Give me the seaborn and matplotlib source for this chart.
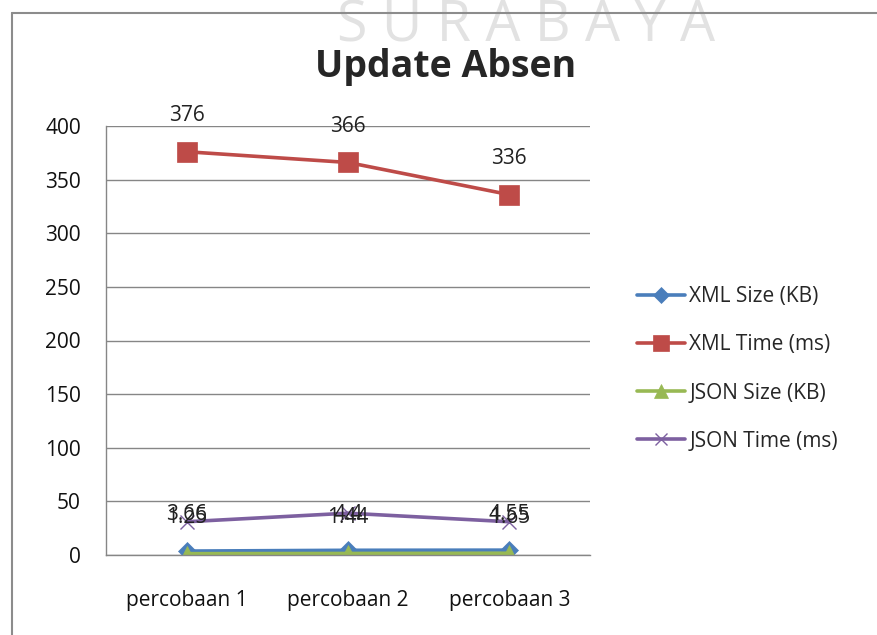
import matplotlib
matplotlib.use("Agg")
import matplotlib.pyplot as plt
import seaborn as sns
import pandas as pd
from matplotlib.lines import Line2D

categories = ["percobaan 1", "percobaan 2", "percobaan 3"]
xml_size = [3.66, 4.4, 4.55]
xml_time = [376, 366, 336]
json_size = [1.25, 1.44, 1.65]
json_time = [31, 39, 31]
series_names = ["XML Size (KB)", "XML Time (ms)", "JSON Size (KB)", "JSON Time (ms)"]

colors = ["#4A7EBB", "#BE4B48", "#98B954", "#7D60A0"]
markers = ["D", "s", "^", "x"]
msizes = [9, 14, 12, 10]

sns.set_style("white")
plt.rcParams["font.family"] = ["Open Sans", "DejaVu Sans"]

rows = []
for name, vals in zip(series_names, [xml_size, xml_time, json_size, json_time]):
    for i, v in enumerate(vals):
        rows.append({"x": i, "cat": categories[i], "value": v, "series": name})
df = pd.DataFrame(rows)

fig = plt.figure(figsize=(8.78, 6.35), dpi=100)
ax = fig.add_axes([106 / 878, 1 - 555 / 635, 484 / 878, 429 / 635])

for name, c, m, ms in zip(series_names, colors, markers, msizes):
    sub = df[df["series"] == name]
    sns.lineplot(data=sub, x="x", y="value", ax=ax, color=c, linewidth=2.6,
                 marker=m, markersize=ms, markeredgecolor=c,
                 markeredgewidth=1.0 if m == "x" else 0.5, sort=False, legend=False)

# data labels
for vals in [xml_size, xml_time, json_size]:
    for i, v in enumerate(vals):
        ax.annotate(f"{v:g}", (i, v), xytext=(0, 26), textcoords="offset points",
                    ha="center", va="center", fontsize=15, color="#222222")

ax.set_xlim(-0.5, 2.5)
ax.set_ylim(0, 400)
ax.set_yticks(range(0, 401, 50))
ax.set_xticks(range(len(categories)))
ax.set_xticklabels(categories)
ax.set_xlabel("")
ax.set_ylabel("")
ax.grid(axis="y", color="#868686", linewidth=1)
ax.set_axisbelow(True)
for s in ["top", "right"]:
    ax.spines[s].set_visible(False)
for s in ["left", "bottom"]:
    ax.spines[s].set_color("#868686")
    ax.spines[s].set_linewidth(1)
ax.tick_params(axis="y", length=0, pad=18, labelsize=15, colors="#111111")
ax.tick_params(axis="x", length=0, pad=25, labelsize=15, colors="#111111")

handles = [Line2D([0], [0], color=c, marker=m, markersize=ms * 0.85, linewidth=2.6,
                  markeredgecolor=c, markeredgewidth=1.0 if m == "x" else 0.5)
           for c, m, ms in zip(colors, markers, msizes)]
fig.legend(handles, series_names, loc="center left", bbox_to_anchor=(627 / 878, 1 - 369 / 635),
           frameon=False, fontsize=15, handlelength=2.3, handletextpad=0.2,
           labelspacing=1.3, borderpad=0)

fig.suptitle("Update Absen", x=446 / 878, y=1 - 67 / 635, va="center",
             fontsize=27, fontweight="bold")

fig.text(526 / 878, 1 - 27 / 635, "S U R A B A Y A", ha="center", va="center",
         fontsize=40, color="#e2e2e2", zorder=0)

# outer frame
fig.add_artist(Line2D([12 / 878, 12 / 878], [0, 1 - 13 / 635], transform=fig.transFigure,
                      color="#8c8c8c", linewidth=1.5))
fig.add_artist(Line2D([12 / 878, 1], [1 - 13 / 635, 1 - 13 / 635], transform=fig.transFigure,
                      color="#8c8c8c", linewidth=1.5))

fig.savefig("out.png", dpi=100)
